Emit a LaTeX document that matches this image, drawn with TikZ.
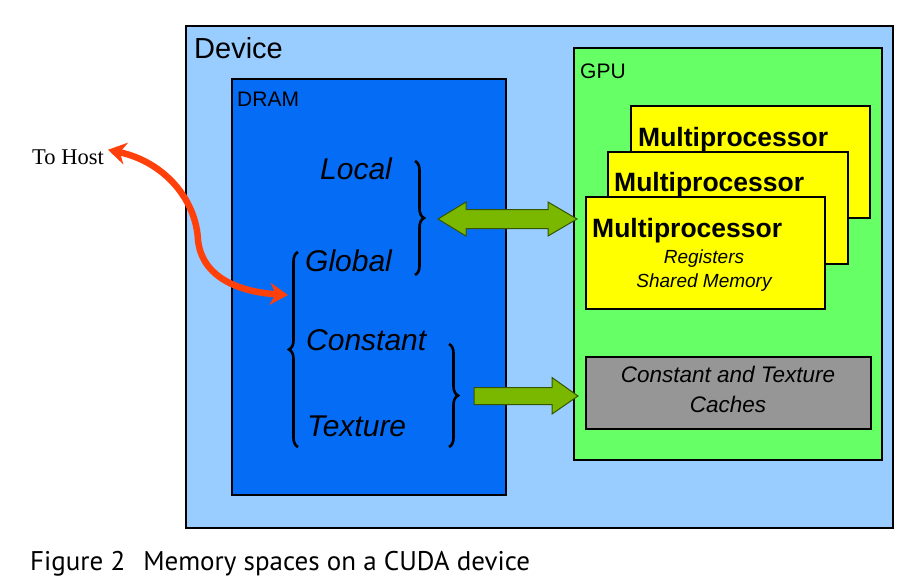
\documentclass[tikz,border=0pt]{standalone}
\usepackage{fontspec}
\setmainfont{Liberation Sans}
\newfontfamily\serifhost{Liberation Serif}
\newfontfamily\capfont{PT Sans}
\usetikzlibrary{arrows.meta,decorations.pathreplacing}
\definecolor{devblue}{RGB}{153,204,255}
\definecolor{dramblue}{RGB}{5,108,245}
\definecolor{gpugreen}{RGB}{102,255,102}
\definecolor{mpyellow}{RGB}{255,255,0}
\definecolor{cachegray}{RGB}{150,150,150}
\definecolor{arrgreen}{RGB}{122,184,0}
\definecolor{arrdark}{RGB}{55,85,0}
\definecolor{hostred}{RGB}{255,64,10}
\tikzset{
  box/.style={draw=black, line width=1.6pt, anchor=north west, inner sep=0pt},
  lbl/.style={anchor=base west, inner sep=0pt},
  mem/.style={lbl, font=\fontsize{30}{30}\selectfont\itshape},
  mptext/.style={lbl, font=\fontsize{26.5}{26.5}\selectfont\bfseries},
  brc/.style={decorate, decoration={brace, amplitude=9pt}, line width=2.6pt},
  fatarrow/.style={fill=arrgreen, draw=arrdark, line width=1pt, line join=miter},
}
\begin{document}
\begin{tikzpicture}[x=1pt,y=-1pt]
\useasboundingbox (0,0) rectangle (917,587);
% boxes
\node[box, fill=devblue, minimum width=707pt, minimum height=502pt] (device) at (185,25) {};
\node[box, fill=dramblue, minimum width=274pt, minimum height=416pt] (dram) at (231,78) {};
\node[box, fill=gpugreen, minimum width=308pt, minimum height=412pt] (gpu) at (573,47) {};
\node[box, fill=mpyellow, minimum width=239pt, minimum height=112pt] (mp3) at (630,105) {};
\node[box, fill=mpyellow, minimum width=240pt, minimum height=112pt] (mp2) at (607,151) {};
\node[box, fill=mpyellow, minimum width=239pt, minimum height=112pt] (mp1) at (585,196) {};
\node[box, fill=cachegray, minimum width=285pt, minimum height=72pt] (cache) at (585,356) {};
% titles
\node[lbl, font=\fontsize{29}{29}\selectfont] (devt) at (194,58) {Device};
\node[lbl, font=\fontsize{21}{21}\selectfont] (dramt) at (237,106) {DRAM};
\node[lbl, font=\fontsize{21}{21}\selectfont] (gput) at (580,78) {GPU};
\node[mptext] (mpt3) at (638,146) {Multiprocessor};
\node[mptext] (mpt2) at (614,191) {Multiprocessor};
\node[mptext] (mpt1) at (592,237) {Multiprocessor};
\node[anchor=base, inner sep=0pt, font=\fontsize{19}{19}\selectfont\itshape] (regs) at (704,263) {Registers};
\node[anchor=base, inner sep=0pt, font=\fontsize{19}{19}\selectfont\itshape] (shm) at (704,287) {Shared Memory};
\node[anchor=base, inner sep=0pt, font=\fontsize{22.5}{22.5}\selectfont\itshape] (ct1) at (728,382) {Constant and Texture};
\node[anchor=base, inner sep=0pt, font=\fontsize{22.5}{22.5}\selectfont\itshape] (ct2) at (728,412) {Caches};
% memory spaces
\node[mem] (local) at (320,179) {Local};
\node[mem] (global) at (305,271) {Global};
\node[mem] (const) at (306,350) {Constant};
\node[mem] (tex) at (307,436) {Texture};
% braces
\coordinate (b1t) at (415,161);
\coordinate (b1b) at (415,275);
\coordinate (b2t) at (298,252);
\coordinate (b2b) at (298,447);
\coordinate (b3t) at (449,344);
\coordinate (b3b) at (449,447);
\draw[brc] (b1t) -- (b1b);
\draw[brc] (b2b) -- (b2t);
\draw[brc] (b3t) -- (b3b);
% green arrows
\coordinate (dl) at (438,219);
\coordinate (dr) at (577,219);
\draw[fatarrow] (dl) -- ++(28,-17) -- ++(0,7.5) -- ++(82,0) -- ++(0,-7.5) -- (dr)
  -- ++(-29,17) -- ++(0,-7.5) -- ++(-82,0) -- ++(0,7.5) -- cycle;
\coordinate (sl) at (474,396);
\coordinate (sr) at (578,396);
\draw[fatarrow] (sl) ++(0,-8.5) -- ++(78,0) -- ++(0,-10) -- (sr) -- ++(-26,18) -- ++(0,-9.5) -- ++(-78,0) -- cycle;
% to host
\node[anchor=base east, inner sep=0pt, font=\serifhost\fontsize{22.5}{22.5}\selectfont] (host) at (104,164) {To Host};
\coordinate (gend) at (288,295);
\draw[hostred, line width=6.5pt, {Stealth[length=18pt,width=22pt]}-{Stealth[length=18pt,width=22pt]}]
  (host.east) ++(4,-7) .. controls (165,162) and (196,200) .. (198,240)
  .. controls (202,278) and (240,292) .. (gend);
% caption
\node[lbl, font=\capfont\fontsize{27}{27}\selectfont] (cap) at (30,570) {Figure 2\hspace{18pt}Memory spaces on a CUDA device};
\end{tikzpicture}
\end{document}
